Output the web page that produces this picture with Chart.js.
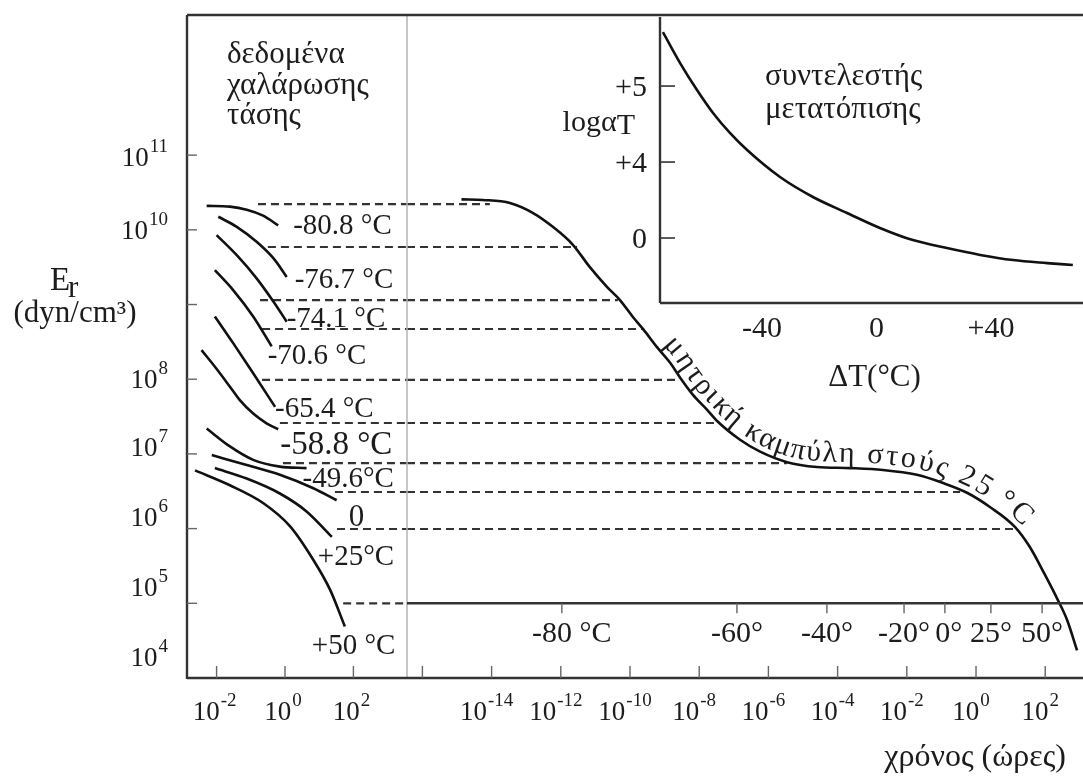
<!DOCTYPE html>
<html><head><meta charset="utf-8">
<script src="https://cdn.jsdelivr.net/npm/chart.js@4.4.1/dist/chart.umd.min.js"></script>
<style>
html,body{margin:0;padding:0;background:#fff;}
#wrap{position:relative;width:1083px;height:778px;overflow:hidden;}
#wrap canvas{position:absolute;left:0;top:0;}
</style></head><body>
<div id="wrap"><canvas id="main" width="1083" height="778"></canvas><canvas id="inset" width="1083" height="778"></canvas></div>
<script>
// ================= DATA (logs are base-10 exponents) =================
// stress-relaxation curves (left panel): temperature, log10(time, h), log10(Er)
const relaxTemps = ['-80.8 °C','-76.7 °C','-74.1 °C','-70.6 °C','-65.4 °C','-58.8 °C','-49.6°C','0','+25°C','+50 °C'];
const relaxLogT = [
  [-2.29,-1.61,-1.12,-0.64,-0.20],
  [-1.95,-1.41,-0.83,-0.34,0.05],
  [-2.00,-1.41,-0.83,-0.34,0.05],
  [-2.05,-1.51,-0.93,-0.39],
  [-2.05,-1.51,-0.93,-0.29],
  [-2.44,-2.02,-1.61,-1.32,-0.93,-0.54,-0.20],
  [-2.29,-1.61,-0.93,-0.15,0.63],
  [-2.14,-1.12,-0.15,0.83,1.51],
  [-2.05,-1.12,-0.15,0.63,1.37],
  [-2.63,-1.61,-0.63,0.15,0.83,1.32,1.75]
];
const relaxLogE = [
  [10.32,10.31,10.27,10.19,10.06],
  [10.175,10.04,9.84,9.62,9.37],
  [9.93,9.66,9.35,9.04,8.77],
  [9.46,9.19,8.84,8.44],
  [8.84,8.48,8.08,7.63],
  [8.39,8.15,7.90,7.72,7.54,7.41,7.33],
  [7.34,7.10,6.92,6.83,6.81],
  [6.985,6.85,6.72,6.54,6.38],
  [6.81,6.67,6.47,6.23,5.89],
  [6.78,6.58,6.34,6.03,5.58,5.18,4.69]
];
// master curve at 25 °C (right panel)
const masterLogT = [-14.87,-14.25,-13.47,-12.80,-12.23,-11.65,-11.16,-10.66,-10.29,-9.91,-9.62,-9.22,-8.84,-8.55,-8.18,-7.77,-7.46,-6.82,-6.24,-5.46,-4.60,-3.64,-2.69,-1.71,-0.95,-0.26,0.40,1.13,1.56,1.96,2.37,2.63,2.92];
const masterLogE = [10.408,10.40,10.36,10.225,10.04,9.80,9.50,9.234,9.06,8.83,8.67,8.43,8.22,8.02,7.79,7.59,7.43,7.19,7.03,6.89,6.825,6.81,6.785,6.72,6.61,6.48,6.29,6.02,5.75,5.41,5.04,4.78,4.37];
// dashed shift lines: level, start on left panel, end on master curve
const dashLogE      = [10.345,9.77,9.06,8.672,7.99,7.414,6.878,6.49,5.995,5.0];
const dashStartLogT = [-0.79,-0.50,-0.73,-0.67,-0.67,-0.15,-0.06,1.46,1.52,1.70];
const dashEndLogT   = [-14.05,-11.53,-10.35,-9.62,-8.64,-7.46,-5.46,-0.46,1.13,null];
// temperature scale drawn along Er = 1e5
const tempAxisLogE = 5;
const tempLabels = ['-80 °C','-60°','-40°','-20°','0°','25°','50°'];
const tempLogT   = [-11.97,-6.91,-4.31,-2.08,-0.90,0.43,1.91];
// axis ticks (exponents)
const yTickExp   = [5,6,7,8,9,10,11];
const yLabelExp  = [4,5,6,7,8,10,11];
const xLTickExp  = [-2,0,2];
const xRTickExp  = [-16,-14,-12,-10,-8,-6,-4,-2,0,2];
const xRLabelExp = [-14,-12,-10,-8,-6,-4,-2,0,2];
// inset: shift factor log aT vs ΔT
const insetDT   = [-74.6,-68.6,-62.7,-57.1,-51.2,-45.2,-33.7,-22.2,-10.3,1.2,12.7,24.6,36.2,47.7,59.6,68.6];
const insetLogA = [10.84,9.21,7.79,6.58,5.53,4.63,3.21,2.16,1.32,0.53,-0.11,-0.53,-0.89,-1.16,-1.32,-1.42];
const insetYTicks  = [0,4,8];
const insetYLabels = ['0','+4','+5'];
const insetXTicks  = [-40,0,40];
const insetXLabels = ['-40','0','+40'];

// ================= STYLE / LAYOUT =================
const FONT = '"Liberation Serif","Times New Roman",serif';
const INK = '#1c1c1c';
const yLabelDy = [-21,-16,-12,-7,0,0,2];
const relaxLabelOff = [[15,-1],[8,1],[0,-5],[-4,8],[0,0],[2,14],[-4,9],[12,15],[-14,18],[-33,18]];
const relaxLabelSize = [29,29,29,29,29,33,29,31,29,29];
const tempLabelDx = [10,0,0,0,4,0,0];

function f(sz){ return sz + 'px ' + FONT; }
function seg(ctx,x1,y1,x2,y2){ ctx.beginPath(); ctx.moveTo(x1,y1); ctx.lineTo(x2,y2); ctx.stroke(); }
function txt(ctx,s,x,base,sz,align){ ctx.font=f(sz); ctx.textAlign=align||'left'; ctx.textBaseline='alphabetic'; ctx.fillText(s,x,base); }
function supLabel(ctx, base, sup, x, yc, align, bs, ss){
  ctx.font=f(bs); const wb=ctx.measureText(base).width;
  ctx.font=f(ss); const ws=ctx.measureText(sup).width;
  const tot=wb+1+ws;
  const x0 = align==='right' ? x-tot : (align==='center' ? x-tot/2 : x);
  const bl = yc + bs*0.34;
  ctx.textAlign='left'; ctx.textBaseline='alphabetic';
  ctx.font=f(bs); ctx.fillText(base,x0,bl);
  ctx.font=f(ss); ctx.fillText(sup,x0+wb+1,bl-bs*0.52);
}
const P = v => Math.pow(10, v);

function drawAlongCurve(chart, dsIndex, str, startLogT, off, sz, spacing){
  const ctx=chart.ctx, pts=chart.getDatasetMeta(dsIndex).data;
  const smp=[];
  for(let i=0;i<pts.length-1;i++){
    const a=pts[i], b=pts[i+1];
    const c1x=a.cp2x??a.x, c1y=a.cp2y??a.y, c2x=b.cp1x??b.x, c2y=b.cp1y??b.y;
    for(let k=0;k<20;k++){ const t=k/20,u=1-t;
      smp.push([u*u*u*a.x+3*u*u*t*c1x+3*u*t*t*c2x+t*t*t*b.x, u*u*u*a.y+3*u*u*t*c1y+3*u*t*t*c2y+t*t*t*b.y]); }
  }
  smp.push([pts[pts.length-1].x, pts[pts.length-1].y]);
  const cum=[0];
  for(let i=1;i<smp.length;i++) cum.push(cum[i-1]+Math.hypot(smp[i][0]-smp[i-1][0], smp[i][1]-smp[i-1][1]));
  const at=s=>{
    s=Math.max(0,Math.min(cum[cum.length-1]-0.001,s));
    let j=0; while(j<cum.length-2 && cum[j+1]<s) j++;
    const r=(s-cum[j])/((cum[j+1]-cum[j])||1);
    return [smp[j][0]+r*(smp[j+1][0]-smp[j][0]), smp[j][1]+r*(smp[j+1][1]-smp[j][1])];
  };
  const x0=chart.scales.xR.getPixelForValue(P(startLogT));
  let j0=smp.findIndex(p=>p[0]>=x0); if(j0<0) j0=0;
  let s=cum[j0];
  ctx.font=f(sz); ctx.textAlign='center'; ctx.textBaseline='alphabetic';
  for(const ch of str){
    const w=ctx.measureText(ch).width;
    const sc=s+w/2;
    const p=at(sc), pa=at(sc-8), pb=at(sc+8);
    const th=Math.atan2(pb[1]-pa[1], pb[0]-pa[0]);
    const nx=Math.sin(th), ny=-Math.cos(th);
    ctx.save(); ctx.translate(p[0]+nx*off, p[1]+ny*off); ctx.rotate(th); ctx.fillText(ch,0,0); ctx.restore();
    s+=w+spacing;
  }
}

// ================= MAIN CHART =================
const datasets=[];
datasets.push({data: masterLogT.map((t,i)=>({x:P(t), y:P(masterLogE[i])})), xAxisID:'xR', yAxisID:'y',
  showLine:true, borderColor:'#111', borderWidth:2.6, pointRadius:0, cubicInterpolationMode:'monotone'});
relaxLogT.forEach((ts,k)=>{
  datasets.push({data: ts.map((t,i)=>({x:P(t), y:P(relaxLogE[k][i])})), xAxisID:'xL', yAxisID:'y',
    showLine:true, borderColor:'#111', borderWidth:2.6, pointRadius:0, cubicInterpolationMode:'monotone'});
});
const XL_MIN=P(-2.865), XL_MAX=P(3.567), XR_MIN=P(-16.445), XR_MAX=P(3.092);
dashLogE.forEach((e,k)=>{
  const dashStyle={showLine:true, borderColor:'#333', borderWidth:2.2, borderDash:[8,5], pointRadius:0, yAxisID:'y'};
  datasets.push(Object.assign({data:[{x:P(dashStartLogT[k]), y:P(e)},{x:XL_MAX, y:P(e)}], xAxisID:'xL'}, dashStyle));
  if(dashEndLogT[k]!==null)
    datasets.push(Object.assign({data:[{x:XR_MIN, y:P(e)},{x:P(dashEndLogT[k]), y:P(e)}], xAxisID:'xR'}, dashStyle));
});

const hidden = {ticks:{display:false}, grid:{display:false}, border:{display:false}};
const mainDecor = {
  id:'mainDecor',
  afterDraw(chart){
    const ctx=chart.ctx, ca=chart.chartArea, xL=chart.scales.xL, xR=chart.scales.xR, ys=chart.scales.y;
    ctx.save();
    ctx.strokeStyle='#b4b4b4'; ctx.lineWidth=1.5;
    seg(ctx, xL.right, ca.top, xL.right, ca.bottom);
    ctx.strokeStyle='#333'; ctx.lineWidth=2.4;
    seg(ctx, ca.left, ca.top, ca.right, ca.top);
    seg(ctx, ca.left, ca.top, ca.left, ca.bottom+1);
    seg(ctx, ca.left, ca.bottom, ca.right, ca.bottom);
    const yT=ys.getPixelForValue(P(tempAxisLogE));
    seg(ctx, xR.left, yT, xR.right, yT);
    ctx.strokeStyle='#666'; ctx.lineWidth=1.4;
    yTickExp.forEach(e=>{ const p=ys.getPixelForValue(P(e)); seg(ctx, ca.left, p, ca.left+10, p); });
    xLTickExp.forEach(e=>{ const p=xL.getPixelForValue(P(e)); seg(ctx, p, ca.bottom, p, ca.bottom-12); });
    xRTickExp.forEach(e=>{ const p=xR.getPixelForValue(P(e)); seg(ctx, p, ca.bottom, p, ca.bottom-12); });
    tempLogT.forEach(t=>{ const p=xR.getPixelForValue(P(t)); seg(ctx, p, yT, p, yT+10); });
    ctx.fillStyle=INK;
    yLabelExp.forEach((e,i)=>supLabel(ctx,'10',String(e), ca.left-19, ys.getPixelForValue(P(e))+yLabelDy[i], 'right', 27, 19));
    xLTickExp.forEach(e=>supLabel(ctx,'10',String(e), xL.getPixelForValue(P(e))-2, ca.bottom+33, 'center', 27, 19));
    xRLabelExp.forEach(e=>supLabel(ctx,'10',String(e), xR.getPixelForValue(P(e))-5, ca.bottom+33, 'center', 27, 19));
    tempLabels.forEach((s,i)=>txt(ctx, s, xR.getPixelForValue(P(tempLogT[i]))+tempLabelDx[i], yT+29+10, 30, 'center'));
    relaxTemps.forEach((s,k)=>{
      const n=relaxLogT[k].length-1;
      const ex=xL.getPixelForValue(P(relaxLogT[k][n])), ey=ys.getPixelForValue(P(relaxLogE[k][n]));
      const sz=relaxLabelSize[k];
      txt(ctx, s, ex+relaxLabelOff[k][0], ey+relaxLabelOff[k][1]+sz*0.34, sz, 'left');
    });
    txt(ctx,'δεδομένα',227,63,31); txt(ctx,'χαλάρωσης',227,94,31); txt(ctx,'τάσης',227,124,31);
    txt(ctx,'E',50,290,33); txt(ctx,'r',68,297,31);
    txt(ctx,'(dyn/cm³)',75,322,31,'center');
    txt(ctx,'χρόνος (ώρες)',1066,766,32,'right');
    drawAlongCurve(chart, 0, 'μητρική καμπύλη στούς 25 °C', -9.2, 6, 30, 2.2);
    ctx.restore();
  }
};

new Chart(document.getElementById('main'), {
  type:'scatter',
  data:{datasets},
  options:{
    responsive:false, animation:false, devicePixelRatio:1, events:[],
    layout:{padding:{top:15,left:0,right:0,bottom:0}},
    plugins:{legend:{display:false}, tooltip:{enabled:false}},
    scales:{
      xL:Object.assign({type:'logarithmic', axis:'x', position:'bottom', stack:'time', stackWeight:220, min:XL_MIN, max:XL_MAX, afterFit:s=>{s.height=100;}}, hidden),
      xR:Object.assign({type:'logarithmic', axis:'x', position:'bottom', stack:'time', stackWeight:676, min:XR_MIN, max:XR_MAX, afterFit:s=>{s.height=100;}}, hidden),
      y:Object.assign({type:'logarithmic', axis:'y', position:'left', min:1e4, max:P(12.876), afterFit:s=>{s.width=187;}}, hidden)
    }
  },
  plugins:[mainDecor]
});

// ================= INSET CHART =================
const insetDecor = {
  id:'insetDecor',
  afterDraw(chart){
    const ctx=chart.ctx, ca=chart.chartArea, xs=chart.scales.x, ys=chart.scales.y;
    ctx.save();
    ctx.strokeStyle='#333'; ctx.lineWidth=2.4;
    seg(ctx, ca.left, ca.top+2, ca.left, ca.bottom);
    seg(ctx, ca.left, ca.bottom, ca.right, ca.bottom);
    ctx.lineWidth=1.6;
    insetYTicks.forEach(v=>{ const p=ys.getPixelForValue(v); seg(ctx, ca.left, p, ca.left+15, p); });
    ctx.fillStyle=INK;
    insetYTicks.forEach((v,i)=>txt(ctx, insetYLabels[i], ca.left-13, ys.getPixelForValue(v)+10, 30, 'right'));
    insetXTicks.forEach((v,i)=>txt(ctx, insetXLabels[i], xs.getPixelForValue(v), ca.bottom+34, 30, 'center'));
    txt(ctx,'ΔT(°C)', xs.getPixelForValue(0)-2, ca.bottom+83, 31, 'center');
    ctx.font=f(30);
    const wT=ctx.measureText('T').width;
    txt(ctx,'logα', 635-wT, 131, 30, 'right'); txt(ctx,'T', 635, 134, 30, 'right');
    txt(ctx,'συντελεστής',765,85,31); txt(ctx,'μετατόπισης',765,118,31);
    ctx.restore();
  }
};
new Chart(document.getElementById('inset'), {
  type:'scatter',
  data:{datasets:[{data: insetDT.map((v,i)=>({x:v, y:insetLogA[i]})), showLine:true, borderColor:'#111', borderWidth:2.6, pointRadius:0, cubicInterpolationMode:'monotone'}]},
  options:{
    responsive:false, animation:false, devicePixelRatio:1, events:[],
    layout:{padding:{top:15,left:0,right:0,bottom:0}},
    plugins:{legend:{display:false}, tooltip:{enabled:false}},
    scales:{
      x:Object.assign({type:'linear', min:-75.63, max:72.14, afterFit:s=>{s.height=475;}}, hidden),
      y:Object.assign({type:'linear', min:-3.42, max:11.74, afterFit:s=>{s.width=660;}}, hidden)
    }
  },
  plugins:[insetDecor]
});
</script>
</body></html>
